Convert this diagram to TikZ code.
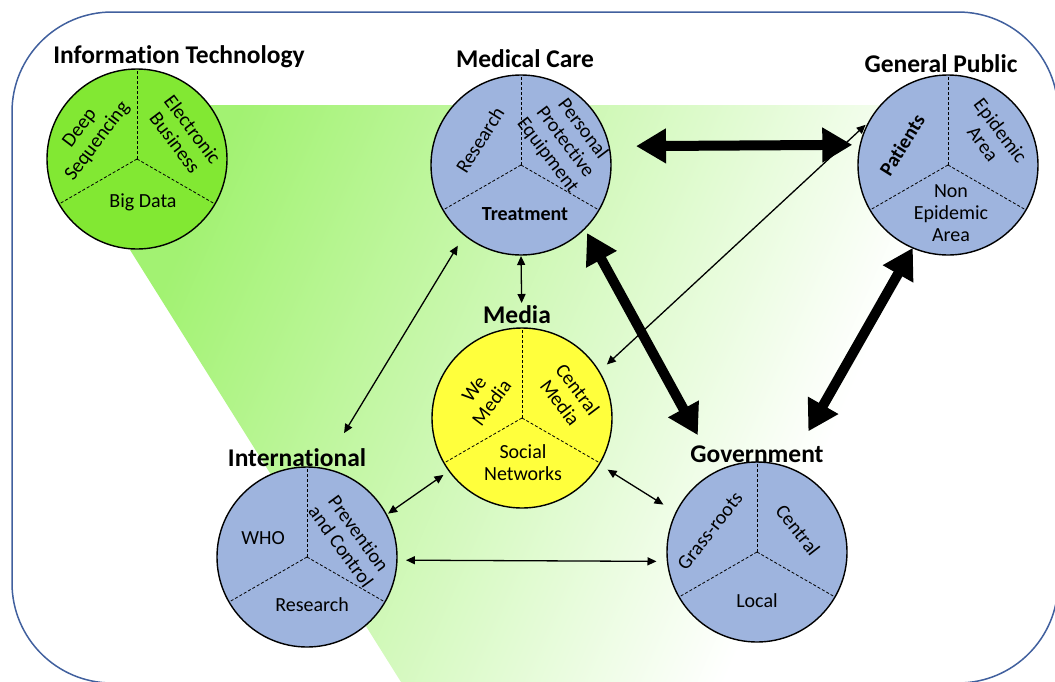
\documentclass[tikz,border=0pt]{standalone}
\usepackage{fontspec}
\setmainfont{Carlito}[Ligatures=NoCommon]
\usetikzlibrary{arrows.meta}
\definecolor{borderblue}{HTML}{41609E}
\definecolor{circblue}{HTML}{9EB4DE}
\definecolor{itgreen}{HTML}{82E833}
\definecolor{medyellow}{HTML}{FFFF3C}
\definecolor{shadegreen}{HTML}{A2F272}
\pgfdeclarehorizontalshading{greenfade}{100bp}{color(0bp)=(shadegreen); color(26bp)=(shadegreen); color(65bp)=(white); color(100bp)=(white)}
\begin{document}
\begin{tikzpicture}[x=1pt,y=-1pt,
  circ/.style={circle,draw=black,line width=1.4pt,minimum size=180pt,inner sep=0pt,outer sep=0pt},
  ttl/.style={font=\fontsize{25.5}{27}\selectfont\bfseries,anchor=base,inner sep=0pt},
  lab/.style={font=\fontsize{20}{22}\selectfont,align=center,inner sep=0pt},
  blab/.style={lab,font=\fontsize{20}{22}\selectfont\bfseries},
  divline/.style={line width=0.8pt,dash pattern=on 3pt off 2pt},
  thinarrow/.style={line width=1.3pt,{Triangle[length=9pt,width=8pt]}-{Triangle[length=9pt,width=8pt]}},
  thickarrow/.style={line width=10pt,{Triangle[length=30pt,width=33pt]}-{Triangle[length=30pt,width=33pt]}}
]
\useasboundingbox (0,0) rectangle (1055,681);
\clip (0,0) rectangle (1055,681);
% green background region
\shade[shading=greenfade,shading angle=-23.6] (73,159) -- (137,105) -- (1060,105) -- (1060,690) -- (406,690) -- cycle;
% border
\draw[borderblue,line width=1.5pt,rounded corners=100pt] (12,12) rectangle (1058,683);

% circles
\node[circ,fill=itgreen] (it) at (137,159) {};
\node[circ,fill=circblue] (mc) at (521,165) {};
\node[circ,fill=circblue] (gp) at (948,165) {};
\node[circ,fill=medyellow] (media) at (522,418) {};
\node[circ,fill=circblue] (intl) at (307,557) {};
\node[circ,fill=circblue] (gov) at (757,552) {};

\foreach \c in {it,mc,gp,media,intl,gov}{
  \draw[divline] (\c.center) -- (\c.north);
  \draw[divline] (\c.center) -- (\c.210);
  \draw[divline] (\c.center) -- (\c.330);
}

% titles
\node[ttl] (itT) at (179,63) {Information Technology};
\node[ttl] (mcT) at (525,67) {Medical Care};
\node[ttl] (gpT) at (941,72) {General Public};
\node[ttl] (mediaT) at (517,323) {Media};
\node[ttl] (intlT) at (297,466) {International};
\node[ttl] (govT) at (757,462) {Government};

% labels
\node[lab,rotate=53] (it1) at (89,135) {Deep\\Sequencing};
\node[lab,rotate=-53] (it2) at (184,136) {Electronic\\Business};
\node[lab] (it3) at (143,202) {Big Data};

\node[lab,rotate=58] (mc1) at (480,140) {Research};
\node[lab,rotate=-53] (mc2) at (565,142) {Personal\\Protective\\Equipment};
\node[blab] (mc3) at (525,214) {Treatment};

\node[blab,rotate=58] (gp1) at (902,145) {Patients};
\node[lab,rotate=-53] (gp2) at (992,137) {Epidemic\\Area};
\node[lab] (gp3) at (951,213) {Non\\Epidemic\\Area};

\node[lab,rotate=53] (md1) at (483,396) {We\\Media};
\node[lab,rotate=-53] (md2) at (569,396) {Central\\Media};
\node[lab] (md3) at (523,463) {Social\\Networks};

\node[lab] (in1) at (263,538) {WHO};
\node[lab,rotate=-54] (in2) at (350,540) {Prevention\\and Control};
\node[lab] (in3) at (312,605) {Research};

\node[lab,rotate=52] (gv1) at (710,531) {Grass-roots};
\node[lab,rotate=-52] (gv2) at (798,530) {Central};
\node[lab] (gv3) at (757,601) {Local};

% connectors
\draw[thinarrow,shorten <=10.5pt,shorten >=5pt] (media.31.2) -- (gp.151.1);
\draw[thinarrow,shorten <=1pt,shorten >=25pt] (mc.south) -- (media.north);
\draw[thinarrow,shorten <=12.6pt,shorten >=41.3pt] (mc.-129.7) -- (intl.80);
\draw[thinarrow,shorten <=2pt,shorten >=7pt] (intl.28.5) -- (media.-144.7);
\draw[thinarrow,shorten <=10pt,shorten >=15pt] (media.-31.2) -- (gov.154.2);
\draw[thinarrow,shorten <=9pt,shorten >=11pt] (intl.-2.5) -- (gov.186);
\draw[thickarrow,shorten <=27pt,shorten >=8pt] (mc.12.8) -- (gp.167.2);
\draw[thickarrow,shorten <=5pt,shorten >=41pt] (mc.-45.9) -- (gov.116.4);
\draw[thickarrow,shorten >=41.5pt] (gp.-113.6) -- (gov.70.3);
\end{tikzpicture}
\end{document}
